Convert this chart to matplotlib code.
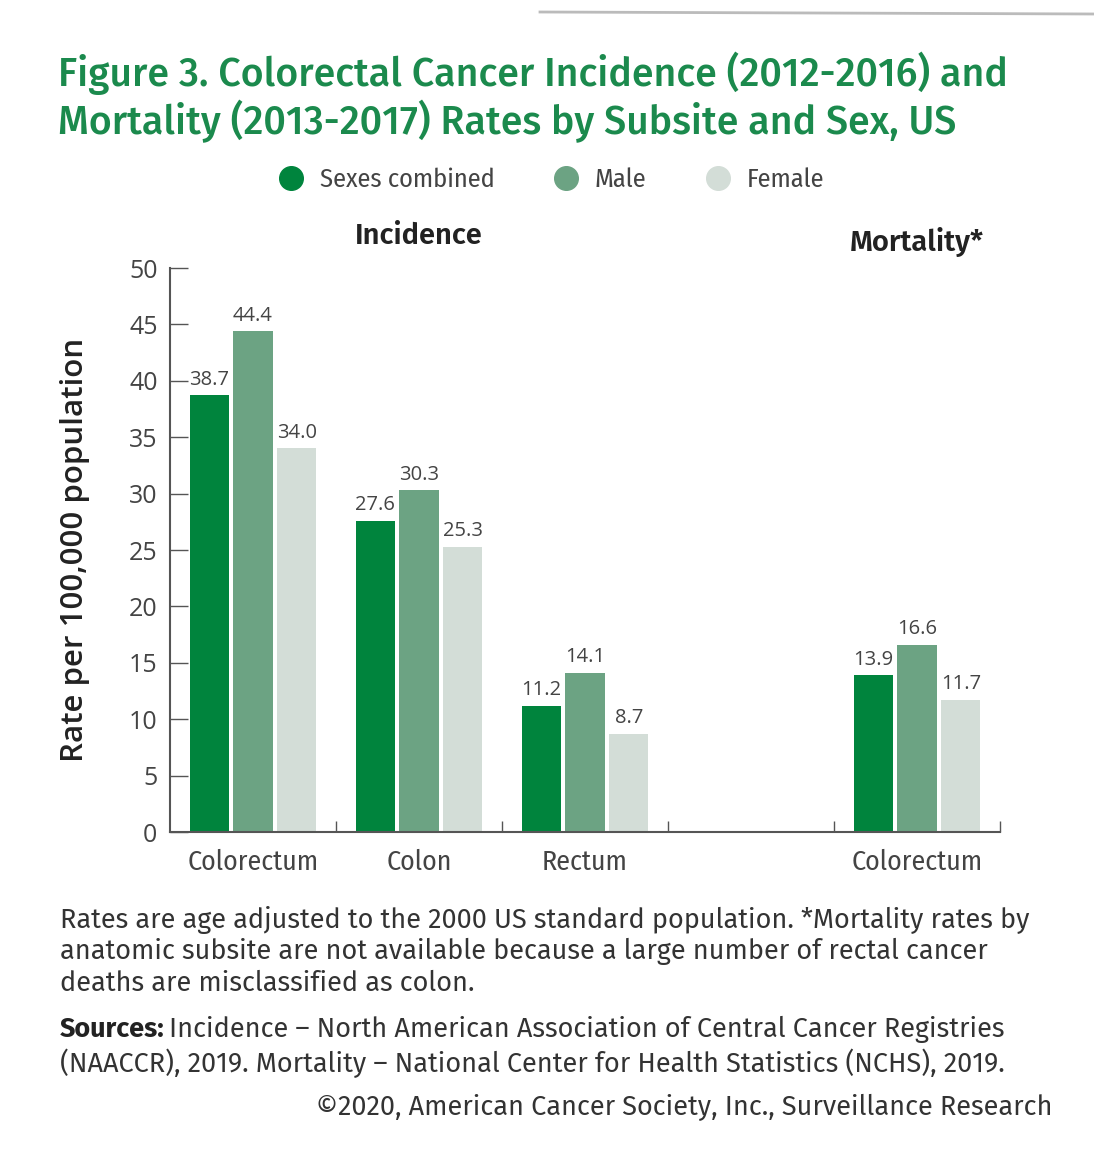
import numpy as np
import matplotlib.pyplot as plt
from matplotlib.lines import Line2D

# Data
group_labels = ['Colorectum', 'Colon', 'Rectum', 'Colorectum']
series_names = ['Sexes combined', 'Male', 'Female']
sexes_combined = [38.7, 27.6, 11.2, 13.9]
male = [44.4, 30.3, 14.1, 16.6]
female = [34.0, 25.3, 8.7, 11.7]
y_ticks = [0, 5, 10, 15, 20, 25, 30, 35, 40, 45, 50]

# Layout: incidence groups fill slots 0-2, slot 3 empty, mortality in slot 4
slots = np.array([0, 1, 2, 4])
COLORS = ['#00843d', '#6ca383', '#d3ddd7']
GREEN = '#1b8a4d'
TEXT = '#333333'
NARROW = ['Fira Sans Condensed', 'DejaVu Sans']
MEDIUM = ['Fira Sans', 'Open Sans', 'DejaVu Sans']
WIDE = ['Open Sans', 'DejaVu Sans']

W, H = 1094, 1153
fig = plt.figure(figsize=(W / 100, H / 100), dpi=100)
ax = fig.add_axes([170 / W, 1 - 832 / H, 830 / W, (832 - 268) / H])

bar_w = 0.235
offsets = [-0.265, 0.0, 0.265]
for vals, off, col in zip([sexes_combined, male, female], offsets, COLORS):
    bars = ax.bar(slots + off, vals, width=bar_w, color=col)
    ax.bar_label(bars, fmt='%.1f', padding=4, fontsize=14.5, family=WIDE, color='#444444')

ax.set_xlim(-0.5, 4.5)
ax.set_ylim(0, 50)
ax.set_yticks(y_ticks)
ax.tick_params(axis='y', direction='in', length=13, width=1, color='#555555',
               pad=9, labelsize=18, labelcolor='#444444')
for lab in ax.get_yticklabels():
    lab.set_family(WIDE)

ax.set_xticks(slots)
ax.set_xticklabels(group_labels, family=NARROW, fontsize=20, color='#444444')
ax.tick_params(axis='x', which='major', length=0, pad=12)
ax.set_xticks([0.5, 1.5, 2.5, 3.5, 4.5], minor=True)
ax.tick_params(axis='x', which='minor', direction='in', length=8, width=1, color='#555555')

for side in ['top', 'right']:
    ax.spines[side].set_visible(False)
for side in ['left', 'bottom']:
    ax.spines[side].set_color('#555555')
    ax.spines[side].set_linewidth(1.5)

ax.set_ylabel('Rate per 100,000 population', family=WIDE, fontsize=22.5,
              fontweight='semibold', color='#222222', va='center')
ax.yaxis.set_label_coords(-95 / 830, 0.5)

ax.text(1, 52.9, 'Incidence', ha='center', va='center', fontsize=21,
        fontweight='semibold', family=MEDIUM, color='#222222', clip_on=False)
ax.text(4, 52.3, 'Mortality*', ha='center', va='center', fontsize=21,
        fontweight='semibold', family=MEDIUM, color='#222222', clip_on=False)

# Title
fig.text(58 / W, 1 - 52 / H,
         'Figure 3. Colorectal Cancer Incidence (2012-2016) and\n'
         'Mortality (2013-2017) Rates by Subsite and Sex, US',
         ha='left', va='top', fontsize=28.3, fontweight='medium', family=MEDIUM,
         color=GREEN, linespacing=1.12)

# Legend
handles = [Line2D([], [], marker='o', ls='', ms=17, color=c) for c in COLORS]
fig.legend(handles, series_names, loc='center', bbox_to_anchor=(551 / W, 1 - 180 / H),
           ncol=3, frameon=False, prop={'family': NARROW, 'size': 19},
           labelcolor='#444444', handlelength=1.0, handletextpad=0.6,
           columnspacing=2.2)

# Footnotes
fig.text(60 / W, 1 - 906 / H,
         'Rates are age adjusted to the 2000 US standard population. *Mortality rates by\n'
         'anatomic subsite are not available because a large number of rectal cancer\n'
         'deaths are misclassified as colon.',
         ha='left', va='top', fontsize=19.5, family=MEDIUM, color=TEXT, linespacing=1.2)

src = fig.text(60 / W, 1 - 1043 / H, 'Sources:', ha='left', va='bottom',
               fontsize=19.5, fontweight='bold', family=MEDIUM, color='#222222')
ax.annotate('Incidence \u2013 North American Association of Central Cancer Registries',
            xy=(1, 0), xycoords=src, xytext=(3, 0), textcoords='offset points',
            ha='left', va='bottom', fontsize=19.5, family=MEDIUM, color=TEXT,
            annotation_clip=False)
fig.text(60 / W, 1 - 1078 / H,
         '(NAACCR), 2019. Mortality \u2013 National Center for Health Statistics (NCHS), 2019.',
         ha='left', va='bottom', fontsize=19.5, family=MEDIUM, color=TEXT)
fig.text(1052 / W, 1 - 1121 / H,
         '\u00a92020, American Cancer Society, Inc., Surveillance Research',
         ha='right', va='bottom', fontsize=19.5, family=MEDIUM, color=TEXT)

# faint scan edge at the top
fig.add_artist(Line2D([540 / W, 1.0], [1 - 12 / H, 1 - 14 / H],
                      transform=fig.transFigure, color='#bbbbbb', lw=2))

fig.savefig('out.png', dpi=100, facecolor='white')
